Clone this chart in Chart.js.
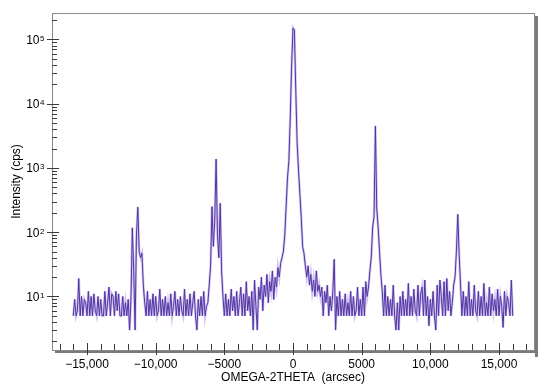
<!DOCTYPE html>
<html>
<head>
<meta charset="utf-8">
<script src="https://cdn.jsdelivr.net/npm/chart.js@4/dist/chart.umd.min.js"></script>
<style>
  html, body { margin: 0; padding: 0; background: #ffffff; }
  #wrap { width: 550px; height: 390px; }
</style>
</head>
<body>
<div id="wrap"><canvas id="c" width="550" height="390"></canvas></div>
<script>
// Scan positions (arcsec)
const omega2theta = [
  -16000,-15900,-15800,-15700,-15600,-15500,-15400,-15300,-15200,-15100,
  -15000,-14900,-14800,-14700,-14600,-14500,-14400,-14300,-14200,-14100,
  -14000,-13900,-13800,-13700,-13600,-13500,-13400,-13300,-13200,-13100,
  -13000,-12900,-12800,-12700,-12600,-12500,-12400,-12300,-12200,-12100,
  -12000,-11900,-11800,-11700,-11600,-11500,-11400,-11300,-11200,-11100,
  -11000,-10900,-10800,-10700,-10600,-10500,-10400,-10300,-10200,-10100,
  -10000,-9900,-9800,-9700,-9600,-9500,-9400,-9300,-9200,-9100,
  -9000,-8900,-8800,-8700,-8600,-8500,-8400,-8300,-8200,-8100,
  -8000,-7900,-7800,-7700,-7600,-7500,-7400,-7300,-7200,-7100,
  -7000,-6900,-6800,-6700,-6600,-6500,-6400,-6300,-6200,-6100,
  -6000,-5900,-5800,-5700,-5600,-5500,-5400,-5300,-5200,-5100,
  -5000,-4900,-4800,-4700,-4600,-4500,-4400,-4300,-4200,-4100,
  -4000,-3900,-3800,-3700,-3600,-3500,-3400,-3300,-3200,-3100,
  -3000,-2900,-2800,-2700,-2600,-2500,-2400,-2300,-2200,-2100,
  -2000,-1900,-1800,-1700,-1600,-1500,-1400,-1300,-1200,-1100,
  -1000,-900,-800,-700,-600,-500,-400,-300,-200,-100,
  0,100,200,300,400,500,600,700,800,900,
  1000,1100,1200,1300,1400,1500,1600,1700,1800,1900,
  2000,2100,2200,2300,2400,2500,2600,2700,2800,2900,
  3000,3100,3200,3300,3400,3500,3600,3700,3800,3900,
  4000,4100,4200,4300,4400,4500,4600,4700,4800,4900,
  5000,5100,5200,5300,5400,5500,5600,5700,5800,5900,
  6000,6100,6200,6300,6400,6500,6600,6700,6800,6900,
  7000,7100,7200,7300,7400,7500,7600,7700,7800,7900,
  8000,8100,8200,8300,8400,8500,8600,8700,8800,8900,
  9000,9100,9200,9300,9400,9500,9600,9700,9800,9900,
  10000,10100,10200,10300,10400,10500,10600,10700,10800,10900,
  11000,11100,11200,11300,11400,11500,11600,11700,11800,11900,
  12000,12100,12200,12300,12400,12500,12600,12700,12800,12900,
  13000,13100,13200,13300,13400,13500,13600,13700,13800,13900,
  14000,14100,14200,14300,14400,14500,14600,14700,14800,14900,
  15000,15100,15200,15300,15400,15500,15600,15700,15800,15900,
  16000
];

// Measured intensity (cps)
const intensity = [
  5, 9, 5, 6, 19, 5, 10, 5, 9, 8,
  5, 12, 5, 10, 5, 11, 6, 5, 10, 5,
  9, 5, 5, 12, 5, 8, 14, 5, 11, 10,
  5, 12, 6, 11, 5, 5, 10, 5, 8, 5,
  9, 3, 9, 117, 25, 3, 90, 245, 50, 40,
  47, 15, 8, 5, 12, 5, 9, 5, 11, 5,
  10, 5, 6, 13, 5, 9, 5, 10, 5, 8,
  5, 11, 5, 7, 12, 5, 9, 5, 10, 6,
  5, 13, 5, 9, 5, 11, 5, 8, 12, 5,
  3, 9, 5, 10, 5, 12, 5, 7, 8, 15,
  30, 250, 60, 150, 1370, 90, 40, 283, 25, 10,
  5, 11, 5, 9, 5, 13, 6, 10, 5, 12,
  5, 8, 14, 5, 11, 5, 17, 6, 10, 5,
  12, 3, 18, 7, 3, 14, 9, 20, 6, 15,
  10, 22, 8, 17, 12, 25, 9, 20, 14, 28,
  20, 33, 40, 50, 90, 250, 700, 1300, 6000, 40000,
  150000, 140000, 17000, 2500, 930, 400, 170, 60, 47, 30,
  20, 30, 15, 22, 12, 18, 10, 25, 12, 15,
  10, 14, 5, 12, 8, 15, 5, 10, 6, 12,
  38, 3, 10, 5, 12, 5, 9, 5, 11, 5,
  8, 5, 12, 5, 10, 5, 6, 14, 5, 9,
  5, 14, 5, 17, 10, 14, 25, 41, 120, 173,
  4500, 230, 121, 50, 22, 12, 5, 15, 5, 10,
  5, 9, 5, 15, 5, 3, 8, 3, 10, 5,
  12, 5, 9, 5, 16, 5, 10, 5, 13, 6,
  5, 15, 5, 11, 14, 5, 18, 5, 10, 3.5,
  9, 5, 12, 5, 3, 15, 5, 18, 10, 5,
  17, 5, 19, 6, 12, 5, 8, 15, 20, 50,
  190, 45, 15, 5, 12, 5, 10, 5, 17, 5,
  9, 5, 15, 6, 5, 12, 5, 10, 5, 16,
  5, 8, 5, 14, 5, 11, 6, 9, 5, 13,
  5, 10, 7, 3.3, 12, 5, 10, 8, 5, 18,
  5
];

// Tick values and labels
const xTickValues = [-15000, -10000, -5000, 0, 5000, 10000, 15000];
const xTickLabels = ['\u221215,000', '\u221210,000', '\u22125000', '0', '5000', '10,000', '15,000'];
const xMinorStep = 1000;
const yTickValues = [10, 100, 1000, 10000, 100000];
const yTickBase = '10';
const yTickExponents = ['1', '2', '3', '4', '5'];
const yMinorMultipliers = [2, 3, 4, 5, 6, 7, 8, 9];

const points = omega2theta.map((x, i) => ({ x: x, y: intensity[i] }));
const FONT = 'Liberation Sans, Arial, sans-serif';

const framePlugin = {
  id: 'frame',
  afterDatasetsDraw(chart) {
    const { ctx, chartArea: a, scales } = chart;
    const xs = scales.x, ys = scales.y;
    ctx.save();
    // drop shadow on right and bottom
    ctx.fillStyle = '#7a7a7a';
    ctx.fillRect(a.right + 1, a.top + 3, 3, a.bottom - a.top + 4);
    ctx.fillRect(a.left + 3, a.bottom, a.right - a.left + 1, 3);
    // frame
    ctx.strokeStyle = '#8a8a8a';
    ctx.lineWidth = 1;
    ctx.strokeRect(Math.round(a.left) + 0.5, Math.round(a.top) + 0.5,
                   Math.round(a.right - a.left), Math.round(a.bottom - a.top));
    // ticks
    ctx.strokeStyle = '#3a3a3a';
    ctx.beginPath();
    const by = Math.round(a.bottom);
    for (let v = Math.ceil(xs.min / xMinorStep) * xMinorStep; v <= xs.max; v += xMinorStep) {
      const px = Math.round(xs.getPixelForValue(v)) + 0.5;
      if (xTickValues.includes(v)) {
        ctx.moveTo(px, by - 7); ctx.lineTo(px, by + 5);
      } else {
        ctx.moveTo(px, by - 6); ctx.lineTo(px, by);
      }
    }
    const lx = Math.round(a.left);
    for (let e = 0; e <= 6; e++) {
      const dec = Math.pow(10, e);
      yMinorMultipliers.forEach(m => {
        const v = m * dec;
        if (v < ys.min || v > ys.max) return;
        const py = Math.round(ys.getPixelForValue(v)) + 0.5;
        ctx.moveTo(lx, py); ctx.lineTo(lx + 5, py);
      });
    }
    yTickValues.forEach(v => {
      const py = Math.round(ys.getPixelForValue(v)) + 0.5;
      ctx.moveTo(lx - 5, py); ctx.lineTo(lx + 7, py);
    });
    ctx.stroke();
    // y tick labels: base with superscript exponent
    ctx.fillStyle = '#000';
    ctx.textBaseline = 'alphabetic';
    yTickValues.forEach((v, i) => {
      const py = ys.getPixelForValue(v);
      ctx.font = '12px ' + FONT;
      ctx.textAlign = 'right';
      ctx.fillText(yTickBase, lx - 12.5, py + 4.5);
      ctx.font = '8px ' + FONT;
      ctx.textAlign = 'left';
      ctx.fillText(yTickExponents[i], lx - 12, py + 1.5);
    });
    ctx.restore();
  }
};

new Chart(document.getElementById('c'), {
  type: 'line',
  data: {
    datasets: [
      {
        data: points,
        borderColor: 'rgba(120,90,215,0.35)',
        borderWidth: 2.5,
        pointRadius: 0,
        tension: 0,
        fill: false
      },
      {
        data: points,
        borderColor: '#3f2186',
        borderWidth: 1,
        pointRadius: 0,
        tension: 0,
        fill: false
      }
    ]
  },
  options: {
    responsive: false,
    animation: false,
    events: [],
    layout: { padding: { top: 13, right: 16, left: 0, bottom: 0 } },
    plugins: { legend: { display: false }, tooltip: { enabled: false } },
    scales: {
      x: {
        type: 'linear',
        min: -17550,
        max: 17550,
        grid: { display: false, drawTicks: false },
        border: { display: false },
        afterBuildTicks: s => { s.ticks = xTickValues.map(v => ({ value: v })); },
        afterFit: s => { s.height = 40; },
        ticks: {
          autoSkip: false,
          maxRotation: 0,
          padding: 7,
          color: '#000',
          font: { family: FONT, size: 12 },
          callback: (v) => xTickLabels[xTickValues.indexOf(v)]
        },
        title: {
          display: true,
          text: 'OMEGA-2THETA  (arcsec)',
          color: '#000',
          font: { family: FONT, size: 12 },
          padding: { top: 0, bottom: 5 }
        }
      },
      y: {
        type: 'logarithmic',
        min: 1.47,
        max: 2.57e5,
        grid: { display: false, drawTicks: false },
        border: { display: false },
        afterBuildTicks: s => { s.ticks = yTickValues.map(v => ({ value: v })); },
        afterFit: s => { s.width = 52; },
        ticks: { display: false },
        title: {
          display: true,
          text: 'Intensity (cps)',
          color: '#000',
          font: { family: FONT, size: 12 },
          padding: { top: 9, bottom: 0 }
        }
      }
    }
  },
  plugins: [framePlugin]
});
</script>
</body>
</html>
